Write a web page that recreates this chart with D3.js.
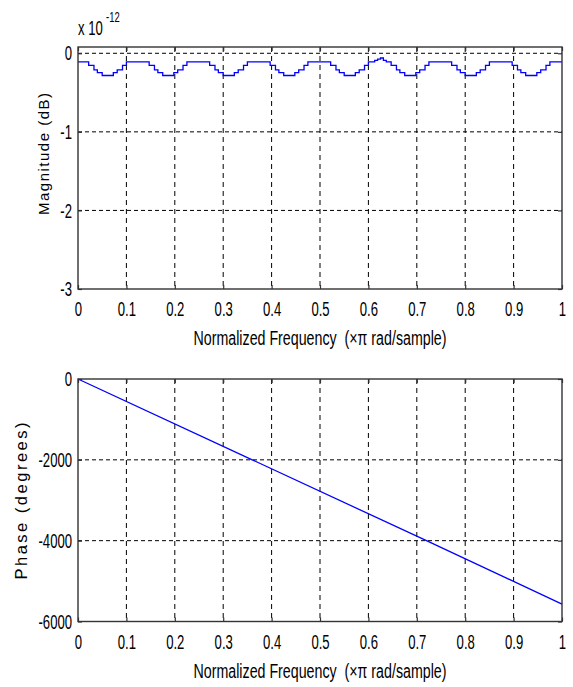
<!DOCTYPE html>
<html>
<head>
<meta charset="utf-8">
<script src="https://cdn.jsdelivr.net/npm/d3@7"></script>
<style>
  body { margin: 0; background: #fff; }
  text { font-family: "Liberation Sans", Arial, sans-serif; fill: #000; white-space: pre; }
</style>
</head>
<body>
<div id="chart"></div>
<script>
// tick values
let freqTicks = [0, 0.1, 0.2, 0.3, 0.4, 0.5, 0.6, 0.7, 0.8, 0.9, 1];
let magTicks = [0, -1, -2, -3];
let phaseTicks = [0, -2000, -4000, -6000];

let magFreq = [0, 0.022, 0.033, 0.040, 0.050, 0.073, 0.081, 0.092, 0.100,
    0.147, 0.158, 0.165, 0.175, 0.198, 0.206, 0.217, 0.225,
    0.272, 0.283, 0.290, 0.300, 0.323, 0.331, 0.342, 0.350,
    0.397, 0.408, 0.415, 0.425, 0.448, 0.456, 0.467, 0.475,
    0.522, 0.533, 0.540, 0.550, 0.573, 0.581, 0.592, 0.600,
    0.613, 0.619, 0.625, 0.631, 0.637,
    0.647, 0.658, 0.665, 0.675, 0.698, 0.706, 0.717, 0.725,
    0.772, 0.783, 0.790, 0.800, 0.823, 0.831, 0.842, 0.850,
    0.897, 0.908, 0.915, 0.925, 0.948, 0.956, 0.967, 0.975, 1];
let magDb = [-0.11, -0.155, -0.21, -0.245, -0.283, -0.245, -0.21, -0.155, -0.11,
    -0.155, -0.21, -0.245, -0.283, -0.245, -0.21, -0.155, -0.11,
    -0.155, -0.21, -0.245, -0.283, -0.245, -0.21, -0.155, -0.11,
    -0.155, -0.21, -0.245, -0.283, -0.245, -0.21, -0.155, -0.11,
    -0.155, -0.21, -0.245, -0.283, -0.245, -0.21, -0.155, -0.11,
    -0.09, -0.075, -0.06, -0.09, -0.11,
    -0.155, -0.21, -0.245, -0.283, -0.245, -0.21, -0.155, -0.11,
    -0.155, -0.21, -0.245, -0.283, -0.245, -0.21, -0.155, -0.11,
    -0.155, -0.21, -0.245, -0.283, -0.245, -0.21, -0.155, -0.11, -0.11];

// phase response (degrees)
let phaseFreq = [0, 0.36, 0.72, 1];
let phaseDeg = [0, -2000, -4000, -5570];

let width = 573, height = 687;
let sx = 0.82, sy = 1.3; // tall, narrow lettering
let left = 78, right = 562;

let svg = d3.select("#chart")
    .append("svg")
    .attr("width", width)
    .attr("height", height);

let x = d3.scaleLinear().domain([0, 1]).range([left, right]);

function panel(top, bottom, yDomain, yTicks, xs, ys, curve, label, labelX, labelY, labelLen, labelSize) {
    let y = d3.scaleLinear().domain(yDomain).range([bottom, top]);
    let h = bottom - top;
    let g = svg.append("g");

    // dashed grid
    g.append("g")
        .selectAll("line")
        .data(freqTicks.slice(1, -1))
        .enter()
        .append("line")
        .attr("x1", d => x(d)).attr("x2", d => x(d))
        .attr("y1", top).attr("y2", bottom)
        .attr("stroke", "#000")
        .attr("stroke-width", 1)
        .attr("stroke-dasharray", "5,4");
    g.append("g")
        .selectAll("line")
        .data(yTicks.filter(d => y(d) > top + 1 && y(d) < bottom - 1))
        .enter()
        .append("line")
        .attr("x1", left).attr("x2", right)
        .attr("y1", d => y(d)).attr("y2", d => y(d))
        .attr("stroke", "#000")
        .attr("stroke-width", 1)
        .attr("stroke-dasharray", "4,3");

    // data line
    let line = d3.line()
        .x(d => x(d[0]))
        .y(d => y(d[1]))
        .curve(curve);
    g.append("path")
        .datum(xs.map((f, i) => [f, ys[i]]))
        .attr("d", line)
        .attr("fill", "none")
        .attr("stroke", "#0000ff")
        .attr("stroke-width", 1.3);

    // inward tick marks on all four sides
    let tk = 4;
    g.append("g").attr("transform", "translate(0," + bottom + ")")
        .call(d3.axisBottom(x).tickValues(freqTicks).tickSize(-tk).tickFormat(""));
    g.append("g").attr("transform", "translate(0," + top + ")")
        .call(d3.axisTop(x).tickValues(freqTicks).tickSize(-tk).tickFormat(""));
    g.append("g").attr("transform", "translate(" + left + ",0)")
        .call(d3.axisLeft(y).tickValues(yTicks).tickSize(-tk).tickFormat(""));
    g.append("g").attr("transform", "translate(" + right + ",0)")
        .call(d3.axisRight(y).tickValues(yTicks).tickSize(-tk).tickFormat(""));
    g.selectAll(".domain").remove();
    g.selectAll(".tick line").attr("stroke", "#333").attr("stroke-width", 1.2);

    g.append("rect")
        .attr("x", left).attr("y", top)
        .attr("width", right - left).attr("height", h)
        .attr("fill", "none")
        .attr("stroke", "#333")
        .attr("stroke-width", 1.4);

    // tick labels
    let xl = g.append("g").attr("transform", "translate(0," + bottom + ")")
        .call(d3.axisBottom(x).tickValues(freqTicks).tickSize(0).tickPadding(9.5).tickFormat(d => String(d)));
    let yl = g.append("g").attr("transform", "translate(" + left + ",0)")
        .call(d3.axisLeft(y).tickValues(yTicks).tickSize(0).tickPadding(6 / sx).tickFormat(d => String(d)));
    [xl, yl].forEach(a => {
        a.select(".domain").remove();
        a.attr("font-family", null).attr("font-size", null);
        a.selectAll("text")
            .attr("font-size", 16)
            .attr("transform", "scale(" + sx + "," + sy + ")");
    });

    // axis titles
    g.append("text")
        .attr("transform", "translate(" + ((left + right) / 2) + "," + (bottom + 56) + ") scale(1,1.25)")
        .attr("text-anchor", "middle")
        .attr("font-size", 16.5)
        .attr("textLength", 253)
        .attr("lengthAdjust", "spacingAndGlyphs")
        .text("Normalized Frequency  (\u00d7\u03c0 rad/sample)");
    g.append("text")
        .attr("transform", "translate(" + labelX + "," + labelY + ") rotate(-90)")
        .attr("text-anchor", "middle")
        .attr("font-size", labelSize)
        .attr("textLength", labelLen)
        .attr("lengthAdjust", "spacing")
        .text(label);
}

panel(47, 289, [-3, 0.08], magTicks, magFreq, magDb, d3.curveStepAfter,
    "Magnitude (dB)", 49, 154, 122, 15);
panel(379, 621.5, [-6000, 0], phaseTicks, phaseFreq, phaseDeg, d3.curveLinear,
    "Phase (degrees)", 26.5, 501, 157, 16.5);

// exponent note above the magnitude axes
svg.append("text")
    .attr("transform", "translate(" + left + ",35) scale(" + sx + "," + sy + ")")
    .attr("font-size", 16)
    .text("x 10");
svg.append("text")
    .attr("transform", "translate(" + (left + 28) + ",22) scale(" + sx + "," + sy + ")")
    .attr("font-size", 11.5)
    .text("-12");
</script>
</body>
</html>
